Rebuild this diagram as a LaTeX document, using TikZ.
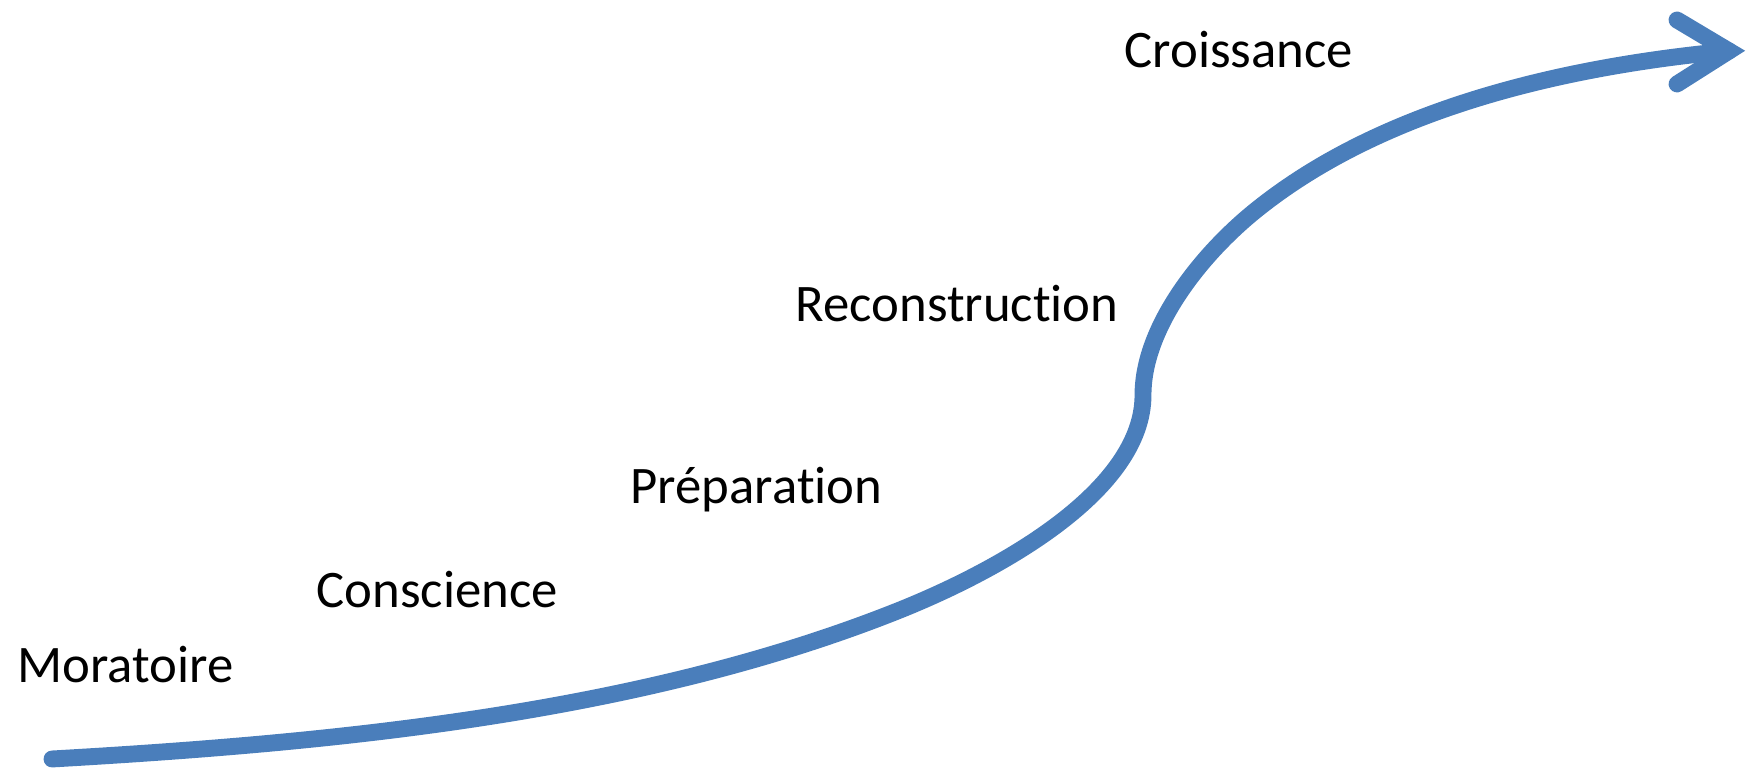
\documentclass[tikz,border=0pt]{standalone}
\usepackage{fontspec}
\setmainfont{Carlito}[Ligatures=NoCommon]
\definecolor{curveblue}{RGB}{74,126,187}
\tikzset{
	phase/.style={anchor=base west,inner sep=0pt,font=\fontsize{15}{18}\selectfont},
	curve/.style={draw=curveblue,line width=4.8pt,line cap=round,line join=round},
}
\begin{document}
\begin{tikzpicture}[
		x={(0.01cm,0cm)},
		y={(0cm,-0.01cm)},
	]
		\useasboundingbox (0,0) rectangle (1749,768);
		
		\foreach \n/\t/\px/\py in {mor/Moratoire/17/683, con/Conscience/316/608, pre/Préparation/630/504, rec/Reconstruction/795/322, cro/Croissance/1124/68}{
			\node[phase] (\n) at (\px,\py) {\t};
		}
		
		\coordinate (start) at (52,759);
		\coordinate (slope) at (900,610);
		\coordinate (bend) at (1143,395);
		\coordinate (rise) at (1260,207);
		\coordinate (tip) at (1729,51);
		\draw[curve] (start) .. controls (332,743) and (640,714) .. (slope)
			.. controls (1002,569) and (1143,490) .. (bend)
			.. controls (1143,325) and (1205,250) .. (rise)
			.. controls (1388,106) and (1570,66) .. (tip);
		\draw[curve,line join=miter] (1677,20) -- (tip) -- (1677,84);
	\end{tikzpicture}
\end{document}
